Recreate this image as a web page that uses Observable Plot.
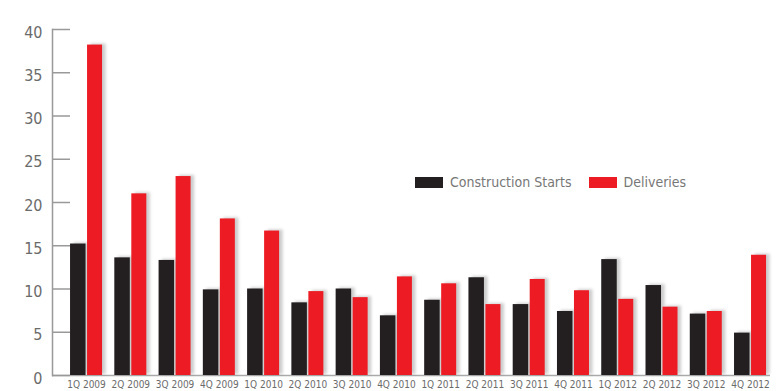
<!DOCTYPE html>
<html>
<head>
<meta charset="utf-8">
<script src="https://cdn.jsdelivr.net/npm/d3@7"></script>
<script src="https://cdn.jsdelivr.net/npm/@observablehq/plot@0.6"></script>
<style>
  html, body { margin: 0; padding: 0; background: #fff; }
  #wrap { position: relative; width: 777px; height: 391px; overflow: hidden; }
  .shadow { filter: blur(1.8px); }
  #legend { position: absolute; left: 415px; top: 174px; display: flex; align-items: center;
    font-family: "DejaVu Sans Condensed", "Liberation Sans Narrow", sans-serif; font-size: 14px; color: #777; }
  #legend .sw { display: inline-block; width: 28px; height: 11px; margin-right: 7px; }
  #legend .item { display: flex; align-items: center; margin-right: 17px; }
</style>
</head>
<body>
<div id="wrap">
  <div id="chart"></div>
  <div id="legend"></div>
</div>
<script>
const quarters = ["1Q 2009","2Q 2009","3Q 2009","4Q 2009","1Q 2010","2Q 2010","3Q 2010","4Q 2010",
                  "1Q 2011","2Q 2011","3Q 2011","4Q 2011","1Q 2012","2Q 2012","3Q 2012","4Q 2012"];
const constructionStarts = [15.2, 13.6, 13.3, 9.9, 10.0, 8.4, 10.0, 6.9, 8.7, 11.3, 8.2, 7.4, 13.4, 10.4, 7.1, 4.9];
const deliveries = [38.2, 21.0, 23.0, 18.1, 16.7, 9.7, 9.0, 11.4, 10.6, 8.2, 11.1, 9.8, 8.8, 7.9, 7.4, 13.9];
const yTicks = [0, 5, 10, 15, 20, 25, 30, 35, 40];
const seriesNames = ["Construction Starts", "Deliveries"];
const seriesColors = ["#231f20", "#ed1c24"];

const rows = quarters.map((q, i) => ({q, starts: constructionStarts[i], deliveries: deliveries[i]}));
const font = `"DejaVu Sans Condensed", "Liberation Sans Narrow", sans-serif`;

const chart = Plot.plot({
  width: 777,
  height: 391,
  marginLeft: 52,
  marginRight: 7,
  marginTop: 29,
  marginBottom: 16,
  style: {fontFamily: font, background: "#fff"},
  x: {domain: quarters, paddingInner: 0.277, paddingOuter: 0.2485, align: 0.82, round: false, axis: null},
  y: {domain: [0, 40], axis: null},
  marks: [
    Plot.ruleY([0], {stroke: "#aaa", strokeWidth: 1.5}),
    // soft shadows
    Plot.barY(rows, {x: "q", y: "starts", fill: "#000", fillOpacity: 0.2, dx: 3.5, dy: -1, insetRight: 16.5, className: "shadow"}),
    Plot.barY(rows, {x: "q", y: "deliveries", fill: "#000", fillOpacity: 0.2, dx: 3.5, dy: -1, insetLeft: 17, className: "shadow"}),
    Plot.barY(rows, {x: "q", y: "starts", fill: seriesColors[0], insetRight: 16.5}),
    Plot.barY(rows, {x: "q", y: "deliveries", fill: seriesColors[1], insetLeft: 17}),
    Plot.frame({anchor: "left", stroke: "#999", strokeWidth: 1.5}),
    Plot.axisY({ticks: yTicks, tickSize: -18, tickFormat: () => "", label: null, stroke: "#999", strokeWidth: 1.5}),
    Plot.axisY({ticks: yTicks, tickSize: 0, tickPadding: 10, label: null, fontSize: 16, fill: "#6b6b6b", dy: 3}),
    Plot.axisX({tickSize: 0, tickPadding: 5, label: null, fontSize: 10, fill: "#6b6b6b"})
  ]
});
document.getElementById("chart").appendChild(chart);

const legend = document.getElementById("legend");
seriesNames.forEach((name, i) => {
  const item = document.createElement("span");
  item.className = "item";
  const sw = document.createElement("span");
  sw.className = "sw";
  sw.style.background = seriesColors[i];
  item.appendChild(sw);
  item.appendChild(document.createTextNode(name));
  legend.appendChild(item);
});
</script>
</body>
</html>
